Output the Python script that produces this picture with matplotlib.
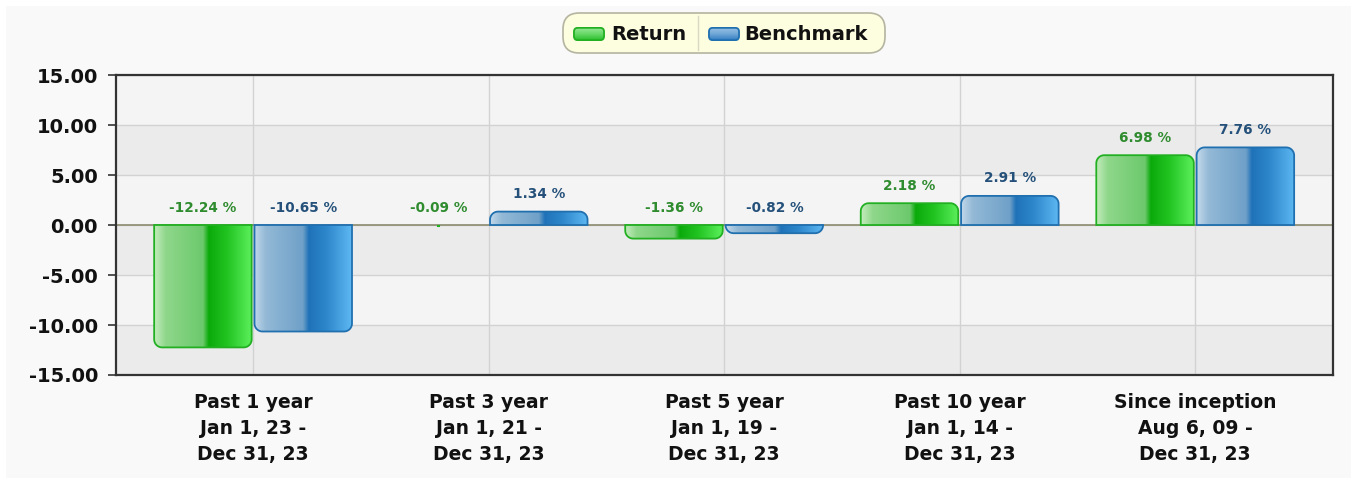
import numpy as np
import matplotlib
matplotlib.use("Agg")
import matplotlib.pyplot as plt
from matplotlib.colors import LinearSegmentedColormap
from matplotlib.patches import Polygon, FancyBboxPatch, Rectangle

# ---- data ----
categories = ["Past 1 year\nJan 1, 23 -\nDec 31, 23",
              "Past 3 year\nJan 1, 21 -\nDec 31, 23",
              "Past 5 year\nJan 1, 19 -\nDec 31, 23",
              "Past 10 year\nJan 1, 14 -\nDec 31, 23",
              "Since inception\nAug 6, 09 -\nDec 31, 23"]
returns = [-12.24, -0.09, -1.36, 2.18, 6.98]
benchmark = [-10.65, 1.34, -0.82, 2.91, 7.76]
series_names = ["Return", "Benchmark"]
yticks = [-15, -10, -5, 0, 5, 10, 15]

W, H = 1356, 483
fig = plt.figure(figsize=(W / 100, H / 100), dpi=100)
fig.patch.set_facecolor("#f9f9f9")
fig.add_artist(Rectangle((0, 0), 1, 1, transform=fig.transFigure, fill=False,
                         edgecolor="white", linewidth=8, zorder=-2))

L, R, T, B = 116, 1333, 75, 375
ax = fig.add_axes([L / W, 1 - B / H, (R - L) / W, (B - T) / H])
XL = (-0.582, 4.585)
ax.set_xlim(*XL)
ax.set_ylim(-15, 15)
ax.set_facecolor("#f4f4f4")

for i, (y0, y1) in enumerate(zip(yticks[:-1], yticks[1:])):
    col = "#ebebeb" if i % 2 == 0 else "#f4f4f4"
    ax.axhspan(y0, y1, color=col, zorder=0, lw=0)

ax.set_yticks(yticks)
ax.set_yticklabels([f"{v:.2f}" for v in yticks])
x = np.arange(len(categories))
ax.set_xticks(x)
ax.set_xticklabels(categories, linespacing=1.45)
ax.grid(True, color="#d2d2d2", lw=1, zorder=0.5)
ax.set_axisbelow(True)
for s in ax.spines.values():
    s.set_color("#333333")
    s.set_linewidth(1.6)
ax.tick_params(axis="y", length=6, width=1.2, color="#333333", pad=7,
               labelsize=14)
ax.tick_params(axis="x", length=0, pad=13, labelsize=13.5)
for lab in ax.get_xticklabels() + ax.get_yticklabels():
    lab.set_fontweight("bold")
    lab.set_color("#111111")

ax.axhline(0, color="#8c8c70", lw=1.2, zorder=1.5)

bw = 0.414
off = 0.213
green_cmap = LinearSegmentedColormap.from_list("g", [
    (0.0, "#c4ecbc"), (0.12, "#8fd78b"), (0.5, "#6cc96c"),
    (0.56, "#0aaa0a"), (0.75, "#22c422"), (1.0, "#5cf05c")])
blue_cmap = LinearSegmentedColormap.from_list("b", [
    (0.0, "#c2d8ea"), (0.12, "#93b9d6"), (0.5, "#6fa0c8"),
    (0.56, "#1f72b8"), (0.75, "#2f88cc"), (1.0, "#5eb8f2")])
swatch_cmaps = [
    LinearSegmentedColormap.from_list("gs", ["#22bb22", "#66d866", "#9be89b"]),
    LinearSegmentedColormap.from_list("bs", ["#2a78c0", "#6ea6d6", "#9cc4e6"]),
]
edge_cols = ["#22b022", "#2070b0"]
text_cols = ["#2e8b2e", "#24507a"]
cmaps = [green_cmap, blue_cmap]

px_x = (XL[1] - XL[0]) / (R - L)
px_y = 30.0 / (B - T)


def rounded_bar(x0, w, h, r_px=8):
    rx = min(r_px * px_x, w / 2)
    ry = min(r_px * px_y, abs(h))
    sgn = 1 if h >= 0 else -1
    t = np.linspace(0, np.pi / 2, 12)
    pts = [(x0, 0)]
    cx, cy = x0 + rx, h - sgn * ry
    for a in t:
        pts.append((cx - rx * np.cos(a), cy + sgn * ry * np.sin(a)))
    cx = x0 + w - rx
    for a in t:
        pts.append((cx + rx * np.sin(a), cy + sgn * ry * np.cos(a)))
    pts.append((x0 + w, 0))
    return np.array(pts)


grad = np.linspace(0, 1, 256).reshape(1, -1)
for si, vals in enumerate([returns, benchmark]):
    pos = x + (-off if si == 0 else off)
    bars = ax.bar(pos, vals, bw, color="none", edgecolor="none", zorder=2,
                  label=series_names[si])
    for rect, v in zip(bars, vals):
        x0, w = rect.get_x(), rect.get_width()
        h = rect.get_height()
        if abs(h) < 0.2:
            ax.plot([x0 + w / 2 - 0.004, x0 + w / 2 + 0.004], [h, h],
                    color=edge_cols[si], lw=1.5, zorder=3)
        else:
            verts = rounded_bar(x0, w, h)
            poly = Polygon(verts, closed=True, facecolor="none",
                           edgecolor=edge_cols[si], lw=1.3, zorder=3)
            ax.add_patch(poly)
            im = ax.imshow(grad, cmap=cmaps[si], aspect="auto",
                           extent=(x0, x0 + w, min(0, h), max(0, h)),
                           zorder=2.5, interpolation="bilinear")
            im.set_clip_path(poly)
        ytxt = max(v, 0) + 1.75
        ax.text(rect.get_x() + w / 2, ytxt, f"{v:.2f} %", ha="center",
                va="center", fontsize=9.8, fontweight="bold",
                color=text_cols[si], zorder=4)
ax.set_xlim(*XL)
ax.set_ylim(-15, 15)

# ---- legend (custom box) ----
lx0, lx1, ly0, ly1 = 563, 885, 13, 53
fig.add_artist(FancyBboxPatch((lx0 / W, 1 - ly1 / H), (lx1 - lx0) / W,
                              (ly1 - ly0) / H,
                              boxstyle="round,pad=0,rounding_size=0.012",
                              transform=fig.transFigure,
                              facecolor="#fdfde0", edgecolor="#b4b4a0",
                              lw=1.2, mutation_aspect=W / H, zorder=-1))
fig.add_artist(plt.Line2D([698 / W, 698 / W], [1 - 50 / H, 1 - 16 / H],
                          transform=fig.transFigure, color="#d8d8c4", lw=1,
                          zorder=-1))
legend_items = [(573, 611, series_names[0], 0), (708, 744, series_names[1], 1)]
vgrad = np.linspace(0, 1, 64).reshape(-1, 1)
for sx, tx, name, si in legend_items:
    sw_ax = fig.add_axes([sx / W, 1 - 41 / H, 32 / W, 14 / H])
    sw_ax.set_axis_off()
    clip = FancyBboxPatch((0.03, 0.06), 0.94, 0.88,
                          boxstyle="round,pad=0,rounding_size=0.12",
                          mutation_aspect=2.3,
                          facecolor="none", edgecolor=edge_cols[si], lw=1.3,
                          zorder=3)
    sw_ax.add_patch(clip)
    im = sw_ax.imshow(vgrad, cmap=swatch_cmaps[si], aspect="auto",
                      extent=(0, 1, 0, 1), origin="lower",
                      interpolation="bilinear")
    im.set_clip_path(clip)
    sw_ax.set_xlim(0, 1)
    sw_ax.set_ylim(0, 1)
    fig.text(tx / W, 1 - 34 / H, name, fontsize=14, fontweight="bold",
             color="#111111", va="center", ha="left")

fig.savefig("out.png", dpi=100, facecolor=fig.get_facecolor())
